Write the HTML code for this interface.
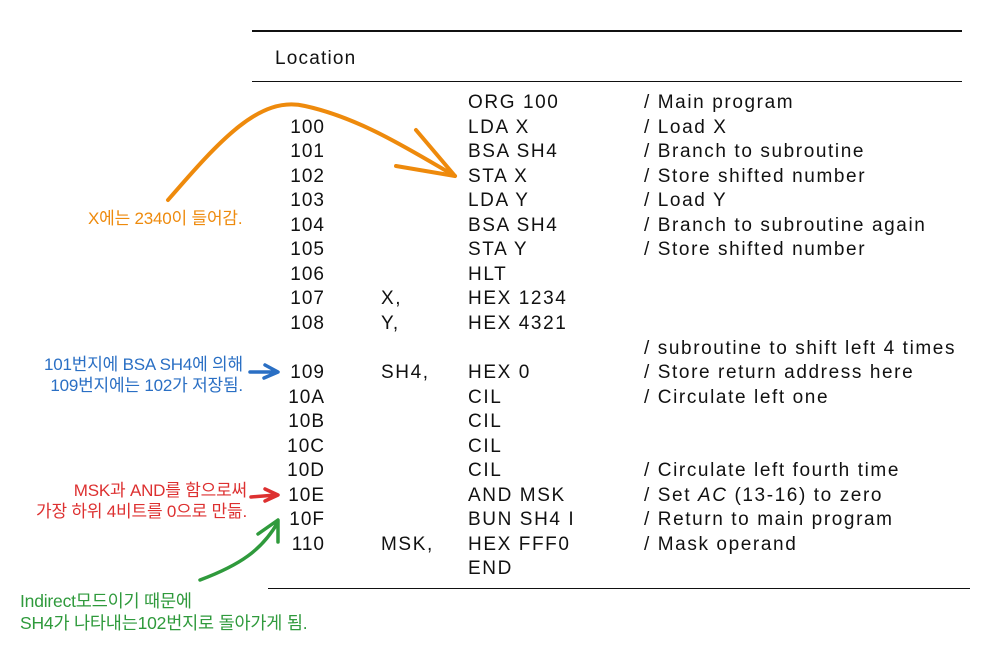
<!DOCTYPE html>
<html><head><meta charset="utf-8"><style>
body{margin:0;width:991px;height:650px;background:#fff;position:relative;overflow:hidden;font-family:"Liberation Sans","Noto Sans CJK KR",sans-serif;}
.t{position:absolute;font-size:19px;color:#111;white-space:nowrap;line-height:22px;letter-spacing:1.6px;}
.r{text-align:right;width:62px;letter-spacing:1px;}
.a{position:absolute;font-size:17px;white-space:nowrap;line-height:21px;letter-spacing:-0.2px;}
.hl{position:absolute;background:#111;}
</style></head><body>
<div class="hl" style="left:252px;top:30px;width:710px;height:2px"></div>
<div class="hl" style="left:252px;top:81px;width:710px;height:1px"></div>
<div class="hl" style="left:268px;top:588px;width:702px;height:1px"></div>
<div class="t" style="left:275px;top:48px;letter-spacing:1.2px">Location</div>
<div id="rows"></div>
<script>
var R=[["","","ORG 100","/ Main program"],["100","","LDA X","/ Load X"],["101","","BSA SH4","/ Branch to subroutine"],["102","","STA X","/ Store shifted number"],["103","","LDA Y","/ Load Y"],["104","","BSA SH4","/ Branch to subroutine again"],["105","","STA Y","/ Store shifted number"],["106","","HLT",""],["107","X,","HEX 1234",""],["108","Y,","HEX 4321",""],["","","","/ subroutine to shift left 4 times"],["109","SH4,","HEX 0","/ Store return address here"],["10A","","CIL","/ Circulate left one"],["10B","","CIL",""],["10C","","CIL",""],["10D","","CIL","/ Circulate left fourth time"],["10E","","AND MSK","/ Set <i>AC</i> (13-16) to zero"],["10F","","BUN SH4 I","/ Return to main program"],["110","MSK,","HEX FFF0","/ Mask operand"],["","","END",""]];
var h="";for(var i=0;i<R.length;i++){var y=92+i*24.55;
h+='<div class="t r" style="left:263px;top:'+y+'px">'+R[i][0]+'</div>';
h+='<div class="t" style="left:381px;top:'+y+'px">'+R[i][1]+'</div>';
h+='<div class="t" style="left:468px;top:'+y+'px">'+R[i][2]+'</div>';
h+='<div class="t" style="left:644px;top:'+y+'px">'+R[i][3]+'</div>';}
document.getElementById("rows").innerHTML=h;
</script>
<div class="a" style="left:88px;top:208px;color:#ee8a0c">X에는 2340이 들어감.</div>
<div class="a" style="left:44px;top:354px;color:#2a6fc4;text-align:right">101번지에 BSA SH4에 의해<br>109번지에는 102가 저장됨.</div>
<div class="a" style="left:36px;top:480px;color:#dd3030;text-align:right">MSK과 AND를 함으로써<br>가장 하위 4비트를 0으로 만듦.</div>
<div class="a" style="left:20px;top:590px;color:#2f9a3c;font-size:17.5px;line-height:22px">Indirect모드이기 때문에<br>SH4가 나타내는102번지로 돌아가게 됨.</div>
<svg width="991" height="650" style="position:absolute;left:0;top:0" fill="none" stroke-linecap="round" stroke-linejoin="round">
<path d="M168 200 C220 140,260 95,305 106 C360 118,410 150,455 176" stroke="#ee8a0c" stroke-width="4"/>
<path d="M416 130 L455 176 L396 166" stroke="#ee8a0c" stroke-width="4"/>
<path d="M250 372 L276 372 M265 365 L278 372 L264 378" stroke="#2a6fc4" stroke-width="3.5"/>
<path d="M251 497 L276 495 M265 489 L278 495 L265 501" stroke="#dd3030" stroke-width="3.5"/>
<path d="M200 580 C240 565,262 550,278 522 M258 534 L278 520 L278 542" stroke="#2f9a3c" stroke-width="3.5"/>
</svg>
</body></html>
